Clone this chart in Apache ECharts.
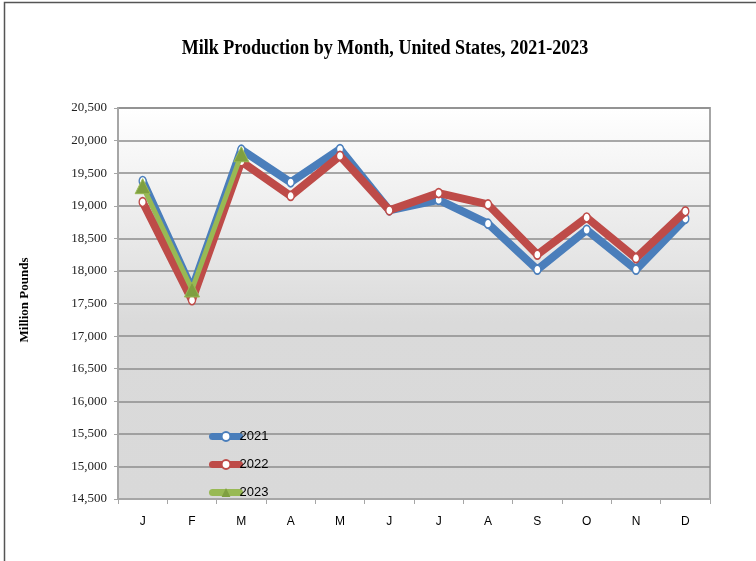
<!DOCTYPE html>
<html>
<head>
<meta charset="utf-8">
<script src="https://cdn.jsdelivr.net/npm/echarts@6/dist/echarts.min.js"></script>
<style>html,body{margin:0;padding:0;background:#fff;}#c{width:756px;height:561px;}</style>
</head>
<body>
<div id="c"></div>
<script>
var months = ['J','F','M','A','M','J','J','A','S','O','N','D'];
var yTicks = [14500, 20500, 500];
var s2021 = [19380, 17720, 19860, 19360, 19870, 18930, 19090, 18725, 18020, 18630, 18020, 18800];
var s2022 = [19057, 17550, 19680, 19150, 19765, 18930, 19195, 19020, 18250, 18820, 18195, 18915];
var s2023 = [19300, 17715, 19790];

var chart = echarts.init(document.getElementById('c'), null, {renderer: 'canvas'});
var sansNarrow = "'Liberation Sans Narrow','Liberation Sans',sans-serif";
var serif = "'Liberation Serif','DejaVu Serif',serif";

chart.setOption({
  animation: false,
  backgroundColor: '#ffffff',
  graphic: [
    {type: 'rect', shape: {x: 4.5, y: 2.5, width: 800, height: 600}, style: {fill: 'none', stroke: '#555', lineWidth: 1.5}, silent: true},
    {type: 'text', x: 385, y: 48, scaleX: 0.82, style: {text: 'Milk Production by Month, United States, 2021-2023', font: "bold 22px 'Liberation Serif', serif", fill: '#000', align: 'center', verticalAlign: 'middle'}},
    {type: 'text', x: 25, y: 300, rotation: Math.PI / 2, style: {text: 'Million Pounds', font: "bold 13px 'Liberation Serif', serif", fill: '#000', align: 'center', verticalAlign: 'middle'}}
  ],
  grid: {
    left: 118, right: 46, top: 108, bottom: 62,
    show: true,
    borderColor: '#a6a6a6', borderWidth: 2,
    backgroundColor: {type: 'linear', x: 0, y: 0, x2: 0, y2: 1, colorStops: [
      {offset: 0, color: '#ffffff'}, {offset: 0.55, color: '#dadada'}, {offset: 1, color: '#d9d9d9'}]}
  },
  legend: {
    orient: 'vertical', left: 204, top: 425, itemGap: 15,
    itemWidth: 27, itemHeight: 11,
    data: ['2021', '2022', '2023'],
    lineStyle: {width: 7, cap: 'round'},
    textStyle: {fontFamily: sansNarrow, fontSize: 13, color: '#000', padding: [0, 0, 0, -5]}
  },
  xAxis: {
    type: 'category', data: months, boundaryGap: true,
    axisLine: {lineStyle: {color: '#a6a6a6', width: 2}},
    axisTick: {show: true, length: 5, lineStyle: {color: '#a6a6a6'}},
    axisLabel: {fontFamily: sansNarrow, fontSize: 12, color: '#000', margin: 17}
  },
  yAxis: {
    type: 'value', min: yTicks[0], max: yTicks[1], interval: yTicks[2],
    axisLine: {show: true, lineStyle: {color: '#a6a6a6', width: 2}},
    axisTick: {show: true, length: 4, lineStyle: {color: '#a6a6a6'}},
    splitLine: {lineStyle: {color: '#8c8c8c', width: 1.5}},
    axisLabel: {fontFamily: serif, fontSize: 13, color: '#222', margin: 11,
      formatter: function (v) { return v.toLocaleString('en-US'); }}
  },
  series: [
    {name: '2021', type: 'line', data: s2021, z: 2,
      lineStyle: {color: '#4a7ebb', width: 8}, itemStyle: {color: '#ffffff', borderColor: '#4a7ebb', borderWidth: 1.5},
      symbol: 'circle', symbolSize: [7, 9], showAllSymbol: true},
    {name: '2022', type: 'line', data: s2022, z: 3,
      lineStyle: {color: '#be4b48', width: 8}, itemStyle: {color: '#ffffff', borderColor: '#be4b48', borderWidth: 1.5},
      symbol: 'circle', symbolSize: [7, 9], showAllSymbol: true},
    {name: '2023', type: 'line', data: s2023, z: 4,
      lineStyle: {color: '#98b954', width: 5}, itemStyle: {color: '#7f9f40', borderColor: '#98b954'},
      symbol: 'triangle', symbolSize: 15, showAllSymbol: true}
  ]
});
</script>
</body>
</html>
